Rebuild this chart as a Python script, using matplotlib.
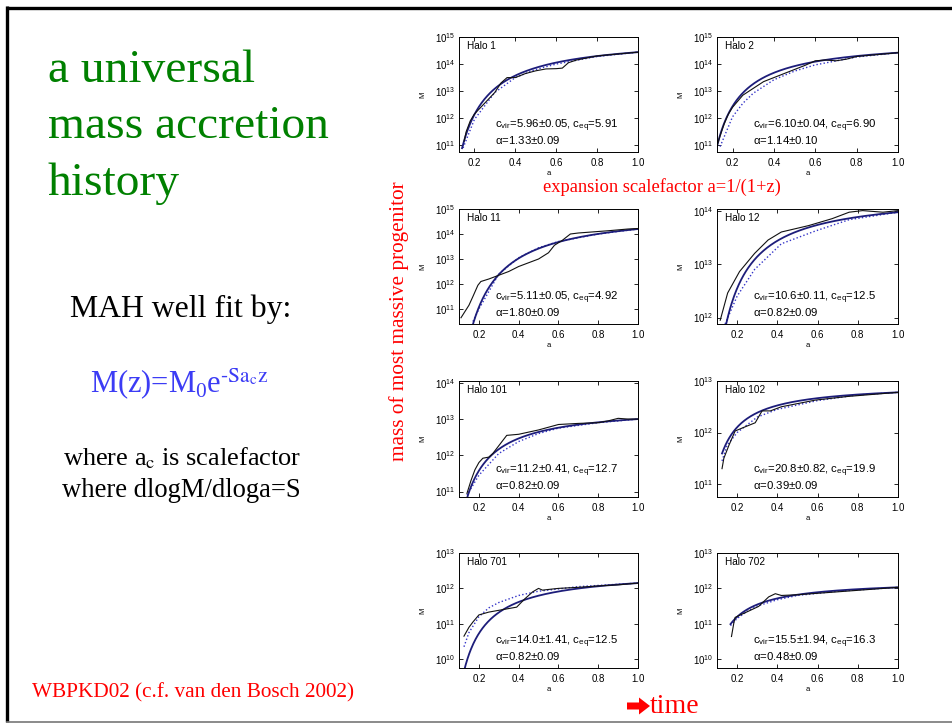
import numpy as np
import matplotlib
matplotlib.use("Agg")
import matplotlib.pyplot as plt
from matplotlib.ticker import LogLocator, LogFormatterSciNotation, NullLocator, FixedLocator
from matplotlib.patches import FancyArrow

plt.rcParams['font.family'] = ['Liberation Sans', 'DejaVu Sans']
plt.rcParams['mathtext.fontset'] = 'custom'
plt.rcParams['mathtext.rm'] = 'Liberation Sans'
plt.rcParams['mathtext.it'] = 'Liberation Sans:italic'
plt.rcParams['mathtext.bf'] = 'Liberation Sans:bold'
plt.rcParams['mathtext.default'] = 'regular'

# ---------------------------------------------------------------- data
halo_names = ["Halo 1", "Halo 2", "Halo 11", "Halo 12",
              "Halo 101", "Halo 102", "Halo 701", "Halo 702"]
c_vir = [5.96, 6.10, 5.11, 10.6, 11.2, 20.8, 14.0, 15.5]
c_vir_err = [0.05, 0.04, 0.05, 0.11, 0.41, 0.82, 1.41, 1.94]
c_eq = [5.91, 6.90, 4.92, 12.5, 12.7, 19.9, 12.5, 16.3]
alpha = [1.33, 1.14, 1.80, 0.82, 0.82, 0.39, 0.82, 0.48]
alpha_err = [0.09, 0.10, 0.09, 0.09, 0.09, 0.09, 0.09, 0.09]
log_m0 = [14.44, 14.42, 14.20, 13.97, 13.00, 12.78, 12.15, 12.03]
a_first = [0.14, 0.12, 0.12, 0.12, 0.12, 0.125, 0.125, 0.167]

# log10 of the y-range of each panel
log_ylo = [10.75, 10.75, 10.40, 11.88, 10.85, 10.75, 9.75, 9.75]
log_yhi = [15.0, 15.0, 15.0, 14.03, 14.05, 13.0, 13.0, 13.0]
x_lo = [0.125, 0.125, 0.1, 0.1, 0.1, 0.1, 0.1, 0.1]

# simulated mass accretion histories (scale factor, log10 M)
a_sim_h1 = [0.15, 0.16, 0.18, 0.2, 0.25, 0.3, 0.33, 0.36, 0.4, 0.45, 0.5, 0.55, 0.6, 0.63, 0.66, 0.7, 0.8, 0.9, 1.0]
lm_sim_h1 = [11.15, 11.5, 11.9, 12.15, 12.55, 12.95, 13.3, 13.5, 13.5, 13.65, 13.75, 13.82, 13.83, 13.85, 14.05, 14.15, 14.3, 14.37, 14.44]
a_sim_h2 = [0.12, 0.14, 0.16, 0.18, 0.2, 0.25, 0.3, 0.35, 0.4, 0.45, 0.5, 0.55, 0.6, 0.65, 0.7, 0.75, 0.8, 0.9, 1.0]
lm_sim_h2 = [10.85, 11.35, 11.8, 12.15, 12.4, 12.85, 13.1, 13.35, 13.5, 13.65, 13.8, 13.95, 14.12, 14.15, 14.12, 14.18, 14.28, 14.35, 14.42]
a_sim_h11 = [0.11, 0.15, 0.17, 0.195, 0.21, 0.25, 0.3, 0.35, 0.4, 0.45, 0.5, 0.55, 0.58, 0.62, 0.66, 0.7, 0.75, 0.85, 0.95, 1.0]
lm_sim_h11 = [10.65, 11.15, 11.5, 11.95, 12.1, 12.2, 12.35, 12.5, 12.7, 12.85, 13.0, 13.25, 13.55, 13.75, 14.0, 14.04, 14.07, 14.13, 14.2, 14.22]
a_sim_h12 = [0.116, 0.153, 0.212, 0.287, 0.354, 0.42, 0.556, 0.673, 0.757, 0.824, 0.925, 1.0]
lm_sim_h12 = [11.95, 12.46, 12.86, 13.2, 13.45, 13.6, 13.72, 13.85, 13.97, 14.0, 13.97, 14.0]
a_sim_h101 = [0.14, 0.16, 0.18, 0.2, 0.22, 0.25, 0.27, 0.34, 0.4, 0.5, 0.6, 0.7, 0.8, 0.85, 0.9, 0.95, 1.0]
lm_sim_h101 = [10.95, 11.3, 11.6, 11.8, 11.92, 11.95, 12.05, 12.55, 12.58, 12.7, 12.85, 12.88, 12.9, 12.95, 13.02, 13.0, 13.0]
a_sim_h102 = [0.125, 0.134, 0.159, 0.19, 0.233, 0.29, 0.324, 0.365, 0.42, 0.59, 0.75, 1.0]
lm_sim_h102 = [11.3, 11.5, 11.75, 12.03, 12.1, 12.19, 12.42, 12.42, 12.5, 12.63, 12.7, 12.78]
a_sim_h701 = [0.125, 0.15, 0.17, 0.2, 0.25, 0.3, 0.35, 0.39, 0.43, 0.47, 0.5, 0.52, 0.55, 0.6, 0.7, 0.8, 0.9, 1.0]
lm_sim_h701 = [10.65, 10.9, 11.05, 11.25, 11.33, 11.38, 11.43, 11.47, 11.7, 11.9, 12.0, 11.95, 11.97, 12.0, 12.03, 12.07, 12.1, 12.15]
a_sim_h702 = [0.172, 0.183, 0.19, 0.258, 0.307, 0.357, 0.39, 0.42, 0.5, 0.67, 0.835, 1.0]
lm_sim_h702 = [10.64, 11.0, 11.18, 11.36, 11.49, 11.76, 11.85, 11.8, 11.82, 11.89, 11.96, 12.03]

# model predictions (dotted)
a_dot_h1 = [0.145, 0.2, 0.3, 0.4, 0.5, 0.6, 0.8, 1.0]
lm_dot_h1 = [10.9, 11.95, 12.95, 13.5, 13.8, 14.0, 14.28, 14.44]
a_dot_h2 = [0.14, 0.2, 0.25, 0.3, 0.4, 0.5, 0.6, 0.8, 1.0]
lm_dot_h2 = [10.95, 12.05, 12.55, 12.92, 13.42, 13.74, 13.97, 14.26, 14.42]
a_dot_h11 = [0.17, 0.2, 0.3, 0.4, 0.5, 0.6, 0.8, 1.0]
lm_dot_h11 = [10.5, 11.0, 12.4, 13.05, 13.45, 13.7, 14.0, 14.2]
a_dot_h12 = [0.14, 0.2, 0.287, 0.42, 0.59, 0.757, 1.0]
lm_dot_h12 = [11.88, 12.4, 12.9, 13.38, 13.62, 13.83, 13.97]
a_dot_h101 = [0.14, 0.2, 0.3, 0.4, 0.5, 0.6, 0.8, 1.0]
lm_dot_h101 = [10.9, 11.45, 12.05, 12.38, 12.6, 12.75, 12.9, 13.0]
a_dot_h102 = [0.125, 0.15, 0.2, 0.3, 0.4, 0.6, 0.8, 1.0]
lm_dot_h102 = [11.45, 11.75, 12.0, 12.3, 12.45, 12.62, 12.73, 12.78]
a_dot_h701 = [0.125, 0.15, 0.2, 0.25, 0.3, 0.4, 0.5, 0.7, 1.0]
lm_dot_h701 = [10.35, 10.75, 11.2, 11.45, 11.6, 11.8, 11.92, 12.05, 12.15]
a_dot_h702 = [0.167, 0.2, 0.25, 0.3, 0.4, 0.5, 0.7, 1.0]
lm_dot_h702 = [10.95, 11.15, 11.35, 11.5, 11.68, 11.8, 11.92, 12.03]

sim_a = [a_sim_h1, a_sim_h2, a_sim_h11, a_sim_h12, a_sim_h101, a_sim_h102, a_sim_h701, a_sim_h702]
sim_lm = [lm_sim_h1, lm_sim_h2, lm_sim_h11, lm_sim_h12, lm_sim_h101, lm_sim_h102, lm_sim_h701, lm_sim_h702]
dot_a = [a_dot_h1, a_dot_h2, a_dot_h11, a_dot_h12, a_dot_h101, a_dot_h102, a_dot_h701, a_dot_h702]
dot_lm = [lm_dot_h1, lm_dot_h2, lm_dot_h11, lm_dot_h12, lm_dot_h101, lm_dot_h102, lm_dot_h701, lm_dot_h702]

x_ticks = [0.2, 0.4, 0.6, 0.8, 1.0]

# ---------------------------------------------------------------- layout
W, H = 953, 723
fig = plt.figure(figsize=(W / 100, H / 100), dpi=100)
fig.patch.set_facecolor("white")

ov = fig.add_axes([0, 0, 1, 1])
ov.set_xlim(0, W)
ov.set_ylim(H, 0)
ov.axis("off")

col_left = [459, 717]
col_right = [638, 898]
row_top = [37, 209, 381, 553]
row_bot = [152, 324, 497, 668]


def fmt_c(v):
    return f"{v:.1f}" if v >= 10 else f"{v:.2f}"


for i, name in enumerate(halo_names):
    r, c = divmod(i, 2)
    x0, x1 = col_left[c], col_right[c]
    y0, y1 = row_top[r], row_bot[r]
    ax = fig.add_axes([x0 / W, 1 - y1 / H, (x1 - x0) / W, (y1 - y0) / H])
    ax.set_yscale("log")
    ax.set_xlim(x_lo[i], 1.0)
    ax.set_ylim(10 ** log_ylo[i], 10 ** log_yhi[i])

    # fitted exponential history M0 exp(-alpha z)
    a_fit = np.linspace(a_first[i], 1.0, 300)
    z_fit = 1.0 / a_fit - 1.0
    m_fit = 10 ** log_m0[i] * np.exp(-alpha[i] * z_fit)

    ax.plot(dot_a[i], 10 ** np.array(dot_lm[i]), color="#3434c8", lw=1.0,
            ls=(0, (1, 1.6)))
    ax.plot(a_fit, m_fit, color="#1d1d7a", lw=1.3)
    ax.plot(sim_a[i], 10 ** np.array(sim_lm[i]), color="#111111", lw=0.8)

    ax.xaxis.set_major_locator(FixedLocator(x_ticks))
    ax.set_xticklabels([f"{t:.1f}" for t in x_ticks])
    ax.yaxis.set_major_locator(LogLocator(base=10, numticks=12))
    ax.yaxis.set_major_formatter(LogFormatterSciNotation())
    ax.yaxis.set_minor_locator(NullLocator())
    ax.tick_params(direction="in", length=3, width=0.6, top=True, right=True,
                   labelsize=7)
    ax.tick_params(axis="x", pad=4.5)
    ax.tick_params(axis="y", pad=2.5)
    for sp in ax.spines.values():
        sp.set_linewidth(0.7)

    ax.set_ylabel("M", fontsize=5.5)
    ax.yaxis.set_label_coords(-33 / (x1 - x0), 0.5)
    ax.set_xlabel("a", fontsize=5.5)
    ax.xaxis.set_label_coords(0.5, -18 / (y1 - y0))

    ax.text(0.045, 0.925, name, transform=ax.transAxes, fontsize=7.2,
            va="center", ha="left")
    ax.text(0.2, 0.225,
            rf"c$_{{vir}}$={fmt_c(c_vir[i])}±{c_vir_err[i]:.2f}, c$_{{eq}}$={fmt_c(c_eq[i])}",
            transform=ax.transAxes, fontsize=8.2, va="center", ha="left")
    ax.text(0.2, 0.105, rf"$\alpha$={alpha[i]:.2f}±{alpha_err[i]:.2f}",
            transform=ax.transAxes, fontsize=8.2, va="center", ha="left")

# ---------------------------------------------------------------- slide text
serif = ["Liberation Serif", "DejaVu Serif"]
green = "#008000"
red = "#ff0000"

for txt, yb in zip(["a universal", "mass accretion", "history"], [82, 138, 195]):
    ov.text(48, yb, txt, fontsize=34.2, color=green, family=serif, va="baseline")

ov.text(70, 317, "MAH well fit by:", fontsize=22.9, color="black",
        family=serif, va="baseline")
ov.text(90, 393, r"M(z)=M$_0$e$^{\text{-}\mathrm{Sa_cz}}$", fontsize=22, color="#3c3cf5",
        family=serif, math_fontfamily="stix", va="baseline")
ov.text(63, 465, r"where a$_\mathrm{c}$ is scalefactor", fontsize=19,
        color="black", family=serif, math_fontfamily="stix", va="baseline")
ov.text(62, 497, "where dlogM/dloga=S", fontsize=19.2, color="black",
        family=serif, va="baseline")
ov.text(32, 697, "WBPKD02 (c.f. van den Bosch 2002)", fontsize=15.35, color=red,
        family=serif, va="baseline")

ov.text(543, 192, "expansion scalefactor a=1/(1+z)", fontsize=13.3, color=red,
        family=serif, va="baseline")
ov.text(399, 321, "mass of most massive progenitor", fontsize=15.3, color=red,
        family=serif, rotation=90, ha="center", va="center")

ov.add_patch(FancyArrow(627, 706, 23, 0, width=7, head_width=17, head_length=11,
                        length_includes_head=True, color=red, lw=0))
ov.text(650, 713, "time", fontsize=20, color=red, family=serif, va="baseline")

# slide frame
ov.plot([7.5, 7.5], [6, 722], color="black", lw=2.4, solid_capstyle="butt")
ov.plot([6, W], [7.5, 7.5], color="black", lw=2.4, solid_capstyle="butt")
ov.plot([7.5, W], [721.5, 721.5], color="#777777", lw=1.2)

fig.savefig("out.png", dpi=100)
